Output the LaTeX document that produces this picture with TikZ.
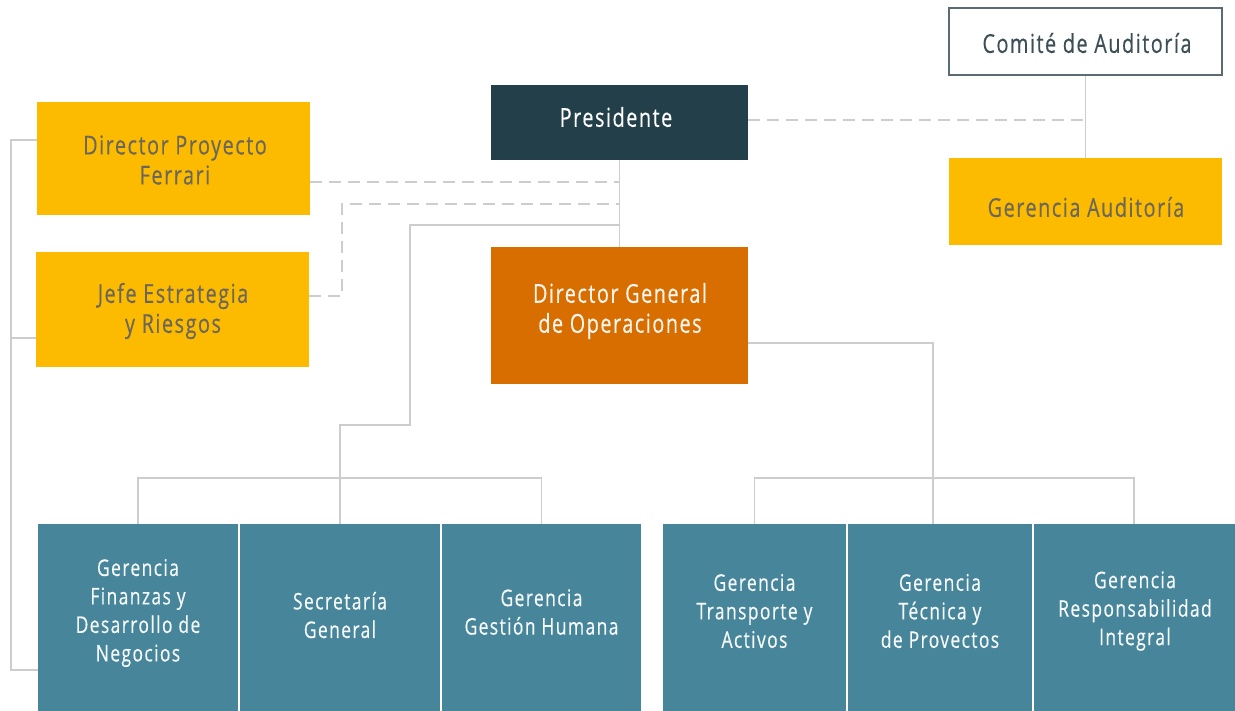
\documentclass[tikz,border=0pt]{standalone}
\usepackage{fontspec}
\setmainfont{Open Sans}[FakeStretch=0.76, LetterSpace=6, FakeBold=0.4]
\definecolor{presfill}{HTML}{233F4A}
\definecolor{dgofill}{HTML}{D86E00}
\definecolor{goldfill}{HTML}{FDBB00}
\definecolor{tealfill}{HTML}{47859A}
\definecolor{goldtext}{HTML}{6B675C}
\definecolor{comtext}{HTML}{3C4F57}
\definecolor{comline}{HTML}{5A6B72}
\definecolor{connline}{HTML}{CDCDCD}
\begin{document}
\begin{tikzpicture}[x=1pt, y=-1pt,
  box/.style={rectangle, inner sep=0pt, align=center},
  toptext/.style={align=center, inner sep=0pt, font=\fontsize{26}{30}\selectfont},
  goldbox/.style={box, fill=goldfill},
  presbox/.style={box, fill=presfill},
  dgobox/.style={box, fill=dgofill},
  combox/.style={box, fill=white, draw=comline, line width=2pt},
  goldtxt/.style={toptext, text=goldtext},
  lighttxt/.style={toptext, text=white!94!dgofill},
  tealbox/.style={rectangle, inner sep=0pt, fill=tealfill, minimum height=206pt},
  tealtext/.style={align=center, inner sep=0pt, text=white!95!tealfill,
    font=\fontsize{23}{28.5}\selectfont},
  conn/.style={draw=connline, line width=1.8pt},
  dashconn/.style={conn, dash pattern=on 12pt off 7pt}]
\clip (0,0) rectangle (1235,710);
\fill[white] (0,0) rectangle (1235,710);

% upper level: boxes
\node[combox, minimum width=273pt, minimum height=67pt] (comite) at (1085.5,41.5) {};
\node[presbox, minimum width=257pt, minimum height=75pt] (pres) at (619.5,122.5) {};
\node[goldbox, minimum width=273pt, minimum height=87pt] (gaud) at (1085.5,201.5) {};
\node[goldbox, minimum width=273pt, minimum height=113pt] (ferrari) at (173.5,158.5) {};
\node[goldbox, minimum width=273pt, minimum height=115pt] (jefe) at (172.5,309.5) {};
\node[dgobox, minimum width=257pt, minimum height=137pt] (dgo) at (619.5,315.5) {};

% upper level: captions
\node[toptext, text=comtext] (comitetxt) at (1087,43) {Comité de Auditoría};
\node[toptext, text=white] (prestxt) at (616,117) {Presidente};
\node[goldtxt] (gaudtxt) at (1086,207) {Gerencia Auditoría};
\node[goldtxt] (ferraritxt) at (175,160) {Director Proyecto\\Ferrari};
\node[goldtxt] (jefetxt) at (173,311) {Jefe Estrategia\\y Riesgos};
\node[lighttxt] (dgotxt) at (620,311) {Director General\\de Operaciones};

% lower level: boxes
\node[tealbox, minimum width=200pt] (fin) at (138,627) {};
\node[tealbox, minimum width=200pt] (secre) at (340,627) {};
\node[tealbox, minimum width=199pt] (gh) at (541.5,627) {};
\node[tealbox, minimum width=183pt] (tra) at (754.5,627) {};
\node[tealbox, minimum width=184pt] (tec) at (940,627) {};
\node[tealbox, minimum width=206pt] (res) at (1137,627) {};

% lower level: captions
\node[tealtext] (fintxt) at (138,613) {Gerencia\\Finanzas y\\Desarrollo de\\Negocios};
\node[tealtext] (secretxt) at (340,615) {Secretaría\\General};
\node[tealtext] (ghtxt) at (541.5,612) {Gerencia\\Gestión Humana};
\node[tealtext] (tratxt) at (754.5,611) {Gerencia\\Transporte y\\Activos};
\node[tealtext] (tectxt) at (940,611) {Gerencia\\Técnica y\\de Provectos};
\node[tealtext] (restxt) at (1135,611) {Gerencia\\Responsabilidad\\Integral};

% connectors
\draw[conn] (comite.south) -- (gaud.north);
\draw[dashconn] (pres.east |- 0,120) -- (comite.south |- 0,120);
\draw[conn] (pres.south) -- (dgo.north);
\draw[dashconn] (ferrari.east |- 0,182) -- (pres.south |- 0,182);
\draw[dashconn] (jefe.east |- 0,296) -| (342,204) -- (pres.south |- 0,204);
\draw[conn] (pres.south |- 0,225) -| (410,425) -| (secre.north);
\draw[conn] (fin.north) -- ++(0,-46) -| (gh.north);
\draw[conn] (dgo.east |- 0,343) -| ([xshift=-7pt]tec.north);
\draw[conn] (tra.north) -- ++(0,-46) -| ([xshift=-3pt]res.north);
\draw[conn] (ferrari.west |- 0,140) -| (11,670) -- (fin.west |- 0,670);
\draw[conn] (jefe.west |- 0,338) -- (11,338);
\end{tikzpicture}
\end{document}
